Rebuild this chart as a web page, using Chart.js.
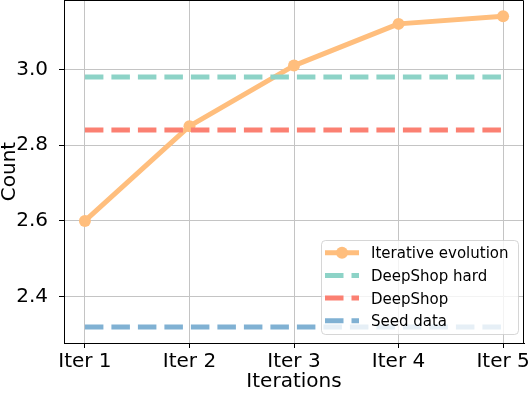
<!DOCTYPE html>
<html>
<head>
<meta charset="utf-8">
<script src="https://cdn.jsdelivr.net/npm/chart.js@4.4.1/dist/chart.umd.min.js"></script>
<style>
  html, body { margin: 0; padding: 0; background: #fff; }
  #wrap { width: 532px; height: 395px; }
</style>
</head>
<body>
<div id="wrap"><canvas id="chart" width="532" height="395"></canvas></div>
<script>
// data
const iterLabels = ['Iter 1', 'Iter 2', 'Iter 3', 'Iter 4', 'Iter 5'];
const iterativeEvolution = [2.60, 2.85, 3.01, 3.12, 3.14];
const deepShopHard = 2.98;
const deepShop = 2.84;
const seedData = 2.32;
const yTicks = [2.4, 2.6, 2.8, 3.0];

const seriesNames = ['Iterative evolution', 'DeepShop hard', 'DeepShop', 'Seed data'];
const seriesColors = ['#ffbe7d', '#8dd3c7', '#fb8072', '#80b1d3'];

const xs = iterLabels.map((_, i) => i + 1);
const flat = (v) => [{ x: xs[0], y: v }, { x: xs[xs.length - 1], y: v }];
const font = 'DejaVu Sans';

// top + right spines
const spines = {
  id: 'spines',
  afterDraw(chart) {
    const { ctx, chartArea: a } = chart;
    ctx.save();
    ctx.strokeStyle = '#000';
    ctx.lineWidth = 1;
    ctx.beginPath();
    ctx.moveTo(a.left, a.top + 0.5);
    ctx.lineTo(a.right - 0.5, a.top + 0.5);
    ctx.lineTo(a.right - 0.5, a.bottom);
    ctx.stroke();
    ctx.restore();
  }
};

// matplotlib-style legend in the lower right corner
const boxLegend = {
  id: 'boxLegend',
  afterDatasetsDraw(chart) {
    const { ctx } = chart;
    const x = 321, y = 240, w = 197, h = 94;
    ctx.save();
    ctx.beginPath();
    ctx.roundRect(x + 0.5, y + 0.5, w, h, 4);
    ctx.fillStyle = 'rgba(255,255,255,0.8)';
    ctx.fill();
    ctx.strokeStyle = 'rgba(204,204,204,0.8)';
    ctx.lineWidth = 1;
    ctx.stroke();

    const order = [3, 0, 1, 2]; // dataset index for each legend row
    ctx.font = '15px "' + font + '"';
    ctx.textBaseline = 'alphabetic';
    order.forEach((di, row) => {
      const ds = chart.data.datasets[di];
      const cy = 252.7 + row * 22.7;
      ctx.strokeStyle = ds.borderColor;
      ctx.lineWidth = 5;
      ctx.lineCap = 'butt';
      ctx.setLineDash(ds.borderDash || []);
      ctx.beginPath();
      ctx.moveTo(325, cy);
      ctx.lineTo(359, cy);
      ctx.stroke();
      ctx.setLineDash([]);
      if (ds.pointRadius) {
        ctx.fillStyle = ds.borderColor;
        ctx.beginPath();
        ctx.arc(342, cy, ds.pointRadius, 0, Math.PI * 2);
        ctx.fill();
      }
      ctx.fillStyle = '#000';
      ctx.fillText(ds.label, 371, cy + 5.5);
    });
    ctx.restore();
  }
};

const dash = [18.5, 8];

new Chart(document.getElementById('chart'), {
  type: 'line',
  data: {
    datasets: [
      {
        label: seriesNames[1], data: flat(deepShopHard),
        borderColor: seriesColors[1], borderWidth: 5, borderDash: dash, borderCapStyle: 'butt',
        pointRadius: 0
      },
      {
        label: seriesNames[2], data: flat(deepShop),
        borderColor: seriesColors[2], borderWidth: 5, borderDash: dash, borderCapStyle: 'butt',
        pointRadius: 0
      },
      {
        label: seriesNames[3], data: flat(seedData),
        borderColor: seriesColors[3], borderWidth: 5, borderDash: dash, borderCapStyle: 'butt',
        pointRadius: 0
      },
      {
        label: seriesNames[0], data: iterativeEvolution.map((v, i) => ({ x: xs[i], y: v })),
        borderColor: seriesColors[0], backgroundColor: seriesColors[0], borderWidth: 5,
        borderJoinStyle: 'round', borderCapStyle: 'round',
        pointRadius: 6, pointBorderWidth: 0, pointBackgroundColor: seriesColors[0]
      }
    ]
  },
  options: {
    responsive: false,
    animation: false,
    events: [],
    layout: { autoPadding: false, padding: { left: 0, right: 8, top: 0, bottom: 0 } },
    plugins: { legend: { display: false }, tooltip: { enabled: false } },
    scales: {
      x: {
        type: 'linear',
        min: 0.8,
        max: 5.2,
        afterBuildTicks: (scale) => { scale.ticks = xs.map(v => ({ value: v })); },
        afterFit: (scale) => { scale.height = 52; scale.paddingLeft = 0; scale.paddingRight = 0; },
        grid: { color: '#c4c4c4', lineWidth: 1, tickColor: '#000', tickLength: 5, drawTicks: true },
        border: { display: true, color: '#000', width: 1 },
        ticks: {
          color: '#000', padding: 2, maxRotation: 0, autoSkip: false,
          font: { family: font, size: 20 },
          callback: (v) => iterLabels[v - 1]
        },
        title: {
          display: true, text: 'Iterations', color: '#000',
          font: { family: font, size: 20, lineHeight: 1 },
          padding: { top: 0, bottom: 3 }
        }
      },
      y: {
        min: 2.278,
        max: 3.183,
        afterBuildTicks: (scale) => { scale.ticks = yTicks.map(v => ({ value: v })); },
        afterFit: (scale) => { scale.width = 64; scale.paddingTop = 0; scale.paddingBottom = 0; },
        grid: { color: '#c4c4c4', lineWidth: 1, tickColor: '#000', tickLength: 5, drawTicks: true },
        border: { display: true, color: '#000', width: 1 },
        ticks: {
          color: '#000', padding: 11,
          font: { family: font, size: 20 },
          callback: (v) => v.toFixed(1)
        },
        title: {
          display: true, text: 'Count', color: '#000',
          font: { family: font, size: 20, lineHeight: 1 },
          padding: { top: 0, bottom: 0 }
        }
      }
    }
  },
  plugins: [spines, boxLegend]
});
</script>
</body>
</html>
